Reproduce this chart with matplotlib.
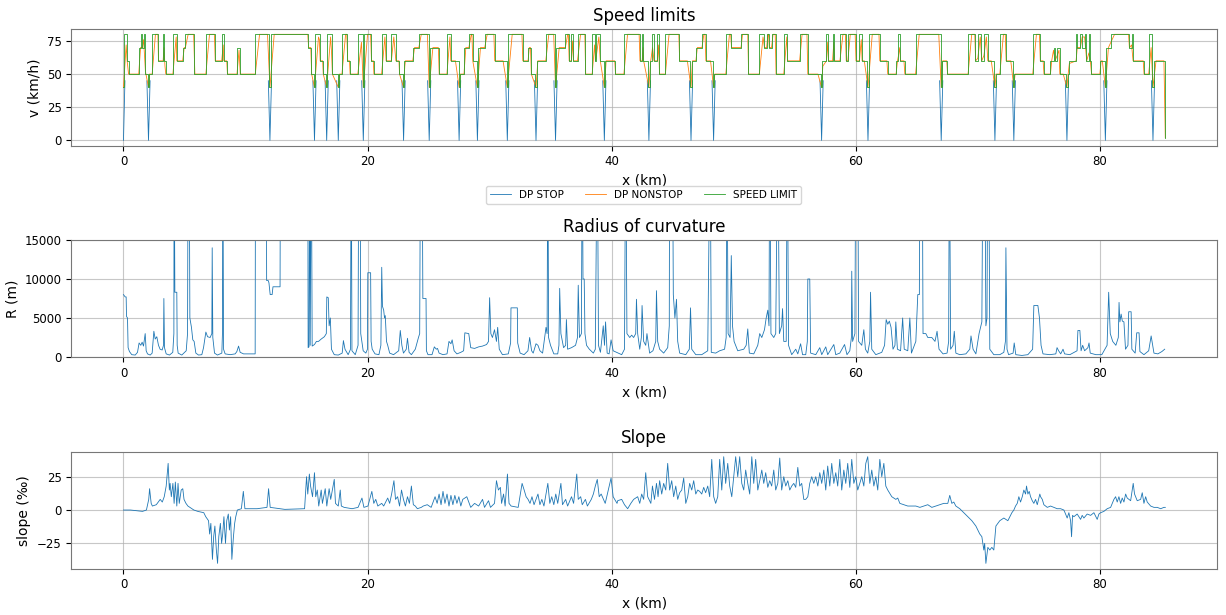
import numpy as np
import matplotlib.pyplot as plt

nan = np.nan

# speed limit, step function: start of each stretch (km) and limit (km/h)
limit_km = [0.0, 0.08, 0.3, 0.45, 1.25, 1.4, 1.55, 1.65, 1.8, 2.0, 2.1, 2.35, 2.85, 3.25, 3.35, 3.45,
            4.05, 4.35, 4.85, 5.05, 5.8, 6.75, 7.5, 8.05, 8.2, 8.5, 9.3, 9.55, 10.8, 11.95, 12.05,
            15.15, 15.4, 15.6, 15.7, 16.1, 16.35, 16.6, 16.7, 17.1, 17.55, 17.65, 17.9, 18.35, 18.55,
            19.2, 19.6, 19.7, 20.3, 20.5, 21.15, 21.5, 21.95, 22.3, 22.6, 22.9, 23.0, 23.7, 24.2,
            25.0, 25.1, 25.85, 26.5, 26.8, 27.45, 27.55, 27.9, 28.3, 28.6, 28.95, 29.05, 29.6, 30.4,
            31.4, 31.5, 32.7, 33.15, 33.4, 33.75, 33.85, 34.6, 35.35, 35.45, 36.2, 36.5, 36.7, 36.85,
            37.2, 37.85, 38.4, 38.65, 38.7, 39.05, 39.35, 39.45, 40.3, 41.0, 42.3, 42.5, 42.6, 43.0,
            43.1, 43.3, 43.45, 43.75, 43.9, 44.4, 45.55, 46.45, 46.55, 46.9, 47.4, 47.7, 48.3, 48.4,
            49.35, 49.8, 50.6, 51.2, 52.1, 52.5, 52.7, 52.9, 53.1, 53.45, 54.1, 54.4, 55.4, 56.05,
            57.15, 57.25, 57.6, 57.75, 58.1, 58.25, 58.7, 59.2, 59.35, 60.0, 60.3, 60.5, 60.95, 61.05,
            61.95, 62.6, 63.3, 63.5, 63.65, 64.0, 64.9, 66.95, 67.05, 67.5, 69.2, 69.8, 70.0, 70.3,
            70.5, 70.8, 71.35, 71.45, 71.8, 72.3, 72.9, 73.0, 74.5, 75.1, 75.4, 75.95, 76.2, 76.3,
            76.5, 76.7, 77.25, 77.35, 77.45, 78.05, 78.15, 78.4, 78.5, 78.75, 78.9, 79.1, 79.2, 79.3,
            80.0, 80.4, 80.5, 80.9, 82.4, 82.6, 82.7, 83.6, 84.0, 84.3, 84.4, 85.36]
limit_kmh = [40, 80, 60, 50, 70, 80, 70, 80, 50, 40, 50, 80, 60, 80, 60, 50,
             80, 60, 70, 80, 50, 80, 60, 80, 60, 50, 70, 50, 80, 40, 80,
             70, 50, 40, 80, 60, 50, 40, 80, 50, 40, 50, 80, 60, 50,
             80, 40, 80, 60, 50, 80, 60, 80, 60, 50, 40, 60, 70, 80,
             40, 70, 50, 80, 60, 40, 50, 70, 80, 60, 40, 70, 80, 60,
             40, 80, 60, 70, 50, 40, 60, 80, 40, 70, 80, 60, 80, 60,
             80, 50, 80, 60, 80, 60, 40, 60, 50, 80, 60, 80, 60, 40,
             60, 80, 60, 80, 50, 80, 60, 40, 60, 70, 80, 60, 40, 50,
             80, 70, 80, 50, 80, 70, 80, 70, 80, 50, 80, 60, 80, 50,
             40, 60, 80, 60, 80, 60, 80, 60, 80, 60, 80, 60, 40, 80,
             60, 50, 60, 80, 60, 50, 80, 40, 60, 50, 80, 60, 80, 60,
             80, 60, 40, 50, 80, 60, 40, 50, 80, 60, 50, 60, 70, 60,
             70, 50, 40, 50, 60, 80, 70, 80, 70, 80, 60, 80, 60, 50,
             60, 40, 70, 80, 70, 80, 60, 50, 80, 40, 60, 2]

# DP nonstop profile (km, km/h)
nonstop_km = [0.0, 0.22, 0.3, 0.42, 1.25, 1.4, 1.55, 1.65, 1.8, 2.05, 2.12, 2.35, 2.62, 2.82, 2.87,
              3.25, 3.32, 3.4, 3.47, 4.05, 4.32, 4.37, 4.85, 4.98, 5.07, 5.3, 5.75, 5.85, 6.75, 7.05,
              7.45, 7.52, 8.05, 8.17, 8.22, 8.46, 8.52, 9.3, 9.47, 9.57, 10.8, 11.15, 11.8, 12.0,
              12.35, 15.1, 15.17, 15.35, 15.42, 15.65, 15.98, 16.05, 16.12, 16.32, 16.37, 16.65,
              16.97, 17.05, 17.12, 17.6, 17.7, 17.9, 18.2, 18.3, 18.37, 18.52, 18.57, 19.2, 19.5,
              19.65, 20.0, 20.25, 20.32, 20.47, 20.52, 21.15, 21.42, 21.52, 21.95, 22.15, 22.32,
              22.57, 22.62, 22.95, 23.05, 23.1, 23.7, 23.85, 24.2, 24.4, 24.9, 25.05, 25.35, 25.8,
              25.87, 26.5, 26.75, 26.82, 27.2, 27.5, 27.6, 27.9, 28.05, 28.3, 28.5, 28.55, 28.62,
              29.0, 29.25, 29.6, 29.8, 30.35, 30.42, 31.1, 31.45, 31.85, 32.65, 32.72, 33.15, 33.25,
              33.35, 33.42, 33.8, 33.95, 34.6, 34.85, 35.25, 35.4, 35.7, 36.2, 36.4, 36.45, 36.52,
              36.7, 36.8, 36.87, 37.2, 37.45, 37.8, 37.87, 38.4, 38.6, 38.67, 38.72, 38.95, 39.07,
              39.4, 39.55, 40.25, 40.32, 41.0, 41.3, 42.25, 42.32, 42.5, 42.57, 42.62, 43.05, 43.2,
              43.35, 43.47, 43.75, 43.85, 43.92, 44.4, 44.7, 45.5, 45.57, 46.2, 46.5, 46.62, 46.9,
              47.02, 47.4, 47.55, 47.65, 47.72, 48.1, 48.35, 48.45, 49.35, 49.65, 49.75, 49.82,
              50.6, 50.72, 51.15, 51.22, 52.1, 52.4, 52.52, 52.7, 52.8, 52.85, 52.92, 53.1, 53.22,
              53.4, 53.47, 54.1, 54.35, 54.42, 55.4, 55.6, 56.0, 56.07, 56.9, 57.2, 57.3, 57.6,
              57.7, 57.77, 58.1, 58.2, 58.27, 58.7, 58.95, 59.15, 59.22, 59.35, 59.55, 59.95, 60.02,
              60.3, 60.45, 60.52, 60.7, 61.0, 61.35, 61.9, 61.97, 62.55, 62.62, 63.3, 63.42, 63.5,
              63.6, 63.67, 63.95, 64.02, 64.9, 65.2, 66.8, 67.0, 67.12, 67.45, 67.52, 69.2, 69.5,
              69.75, 69.82, 70.0, 70.2, 70.32, 70.5, 70.7, 70.82, 71.1, 71.4, 71.5, 71.8, 72.1,
              72.25, 72.32, 72.7, 72.95, 73.05, 74.5, 74.8, 75.05, 75.12, 75.35, 75.42, 75.95,
              76.05, 76.2, 76.32, 76.5, 76.65, 76.72, 77.0, 77.3, 77.4, 77.5, 78.05, 78.15, 78.4,
              78.55, 78.75, 78.92, 79.1, 79.22, 79.32, 80.0, 80.1, 80.2, 80.45, 80.7, 80.9, 81.2,
              82.35, 82.42, 82.6, 82.72, 83.55, 83.62, 84.0, 84.2, 84.35, 84.6, 85.25, 85.36]
nonstop_kmh = [40, 72, 60, 50, 50, 70, 70, 76, 52, 40, 50, 50, 80, 80, 60,
               60, 70, 56, 50, 50, 78, 60, 60, 70, 70, 80, 80, 50, 50, 80,
               80, 60, 60, 72, 60, 60, 50, 50, 68, 50, 50, 80, 80, 40,
               80, 80, 70, 70, 50, 40, 78, 76, 60, 60, 50, 40,
               78, 66, 50, 40, 50, 50, 80, 80, 60, 60, 50, 50, 74,
               40, 80, 80, 60, 60, 50, 50, 78, 60, 60, 78, 60,
               60, 50, 40, 56, 60, 60, 70, 70, 80, 80, 40, 70, 70,
               50, 50, 78, 60, 60, 40, 50, 50, 70, 70, 80, 80, 60,
               40, 70, 70, 80, 80, 60, 60, 40, 80, 80, 60, 60, 70,
               70, 50, 40, 60, 60, 80, 80, 40, 70, 70, 80, 80, 60,
               60, 75, 60, 60, 80, 80, 50, 50, 72, 60, 62, 78, 60,
               40, 60, 60, 50, 50, 80, 80, 60, 60, 70, 60, 40, 60,
               70, 60, 60, 72, 50, 50, 80, 80, 60, 60, 40, 60, 60,
               70, 70, 80, 80, 60, 60, 40, 50, 50, 80, 80, 70,
               70, 80, 80, 50, 50, 78, 70, 70, 80, 80, 70, 70, 80,
               80, 50, 50, 78, 60, 60, 80, 80, 50, 50, 40, 56, 60,
               74, 60, 60, 74, 60, 60, 80, 80, 60, 60, 80, 80, 60,
               60, 76, 60, 60, 40, 80, 80, 60, 60, 50, 50, 60, 64,
               70, 60, 60, 50, 50, 80, 80, 40, 60, 60, 50, 50, 80,
               80, 60, 62, 78, 60, 64, 78, 60, 60, 40, 50, 50, 80,
               80, 60, 60, 40, 50, 50, 80, 80, 60, 60, 50, 50,
               60, 68, 60, 64, 68, 50, 50, 40, 50, 58, 60, 70, 70,
               78, 78, 60, 66, 60, 50, 50, 60, 60, 40, 70, 74, 80,
               80, 70, 72, 60, 60, 50, 50, 70, 40, 60, 60, 2]

# DP stop profile around the stations (gaps where it follows the nonstop run)
stop_km = [0.0, 0.12, nan,
           1.92, 2.05, 2.18, nan, 11.87, 12.0, 12.13, nan, 15.52, 15.65, 15.78, nan,
           16.52, 16.65, 16.78, nan, 17.47, 17.6, 17.73, nan, 19.52, 19.65, 19.78, nan,
           22.82, 22.95, 23.08, nan, 24.92, 25.05, 25.18, nan, 27.37, 27.5, 27.63, nan,
           28.87, 29.0, 29.13, nan, 31.32, 31.45, 31.58, nan, 33.67, 33.8, 33.93, nan,
           35.27, 35.4, 35.53, nan, 39.27, 39.4, 39.53, nan, 42.92, 43.05, 43.18, nan,
           46.37, 46.5, 46.63, nan, 48.22, 48.35, 48.48, nan, 57.07, 57.2, 57.33, nan,
           60.87, 61.0, 61.13, nan, 66.87, 67.0, 67.13, nan, 71.27, 71.4, 71.53, nan,
           72.82, 72.95, 73.08, nan, 77.17, 77.3, 77.43, nan, 80.32, 80.45, 80.58, nan,
           84.22, 84.35, 84.48]
stop_kmh = [0, 45, nan] + [45, 0, 45, nan] * 24 + [45, 0, 45]

# radius of curvature (km, m); very large radii leave the plotted range
radius_km = [0.0, 0.14, 0.22, 0.25, 0.33, 0.38, 0.49, 0.68, 0.96, 1.15, 1.28, 1.42, 1.53, 1.64, 1.78,
             1.86, 1.97, 2.19, 2.35, 2.49, 2.6, 2.73, 2.87, 3.0, 3.17, 3.28, 3.31, 3.36, 3.5, 3.77,
             4.04, 4.13, 4.15, 4.21, 4.37, 4.4, 4.48, 4.78, 5.14, 5.25, 5.3, 5.38, 5.44, 5.57, 5.68,
             5.79, 5.93, 6.15, 6.42, 6.56, 6.75, 6.89, 7.1, 7.24, 7.27, 7.32, 7.46, 7.7, 8.06, 8.11,
             8.14, 8.2, 8.33, 8.74, 9.15, 9.29, 9.43, 9.56, 9.84, 10.11, 10.52, 10.79, 10.82, 11.7,
             11.73, 11.86, 11.92, 12.02, 12.18, 12.25, 12.83, 12.86, 15.1, 15.13, 15.2, 15.26, 15.3,
             15.39, 15.46, 15.65, 15.81, 15.98, 16.2, 16.46, 16.62, 16.66, 16.78, 16.85, 16.95,
             17.04, 17.27, 17.6, 17.92, 18.02, 18.15, 18.41, 18.6, 18.66, 18.72, 18.99, 19.22,
             19.28, 19.38, 19.44, 19.64, 19.86, 19.99, 20.02, 20.25, 20.29, 20.38, 20.61, 20.93,
             21.09, 21.16, 21.22, 21.32, 21.39, 21.45, 21.55, 21.65, 21.81, 22.13, 22.55, 22.68,
             22.81, 22.94, 23.17, 23.27, 23.4, 23.59, 23.91, 24.17, 24.27, 24.34, 24.46, 24.53,
             24.79, 24.82, 24.95, 25.28, 25.47, 25.63, 25.73, 25.86, 26.18, 26.51, 26.67, 26.83,
             26.93, 27.09, 27.32, 27.64, 27.87, 27.97, 28.29, 28.45, 28.77, 29.1, 29.42, 29.75,
             29.91, 30.0, 30.1, 30.23, 30.4, 30.56, 30.66, 30.79, 31.05, 31.53, 31.72, 31.75,
             32.27, 32.3, 32.5, 32.82, 33.14, 33.28, 33.44, 33.57, 33.8, 33.96, 34.12, 34.34,
             34.62, 34.71, 34.77, 34.83, 34.99, 35.26, 35.58, 35.68, 35.74, 35.84, 36.06, 36.23,
             36.29, 36.39, 36.71, 37.04, 37.2, 37.26, 37.36, 37.52, 37.59, 37.65, 37.75, 37.81,
             37.94, 38.17, 38.5, 38.66, 38.82, 38.92, 39.08, 39.31, 39.41, 39.5, 39.63, 39.79,
             39.95, 40.12, 40.82, 41.05, 41.15, 41.25, 41.48, 41.64, 41.8, 41.97, 42.03, 42.13,
             42.3, 42.43, 42.49, 42.62, 42.79, 42.89, 43.11, 43.38, 43.61, 43.67, 43.77, 43.93,
             44.26, 44.59, 44.72, 44.75, 44.98, 45.05, 45.18, 45.31, 45.41, 45.57, 46.07, 46.36,
             46.46, 46.56, 46.89, 47.38, 47.87, 48.07, 48.16, 48.52, 48.85, 49.25, 49.38, 49.44,
             49.54, 49.7, 49.8, 49.9, 50.03, 50.33, 50.82, 51.02, 51.15, 51.28, 51.64, 51.97,
             52.13, 52.3, 52.52, 52.66, 52.79, 52.89, 52.95, 53.05, 53.28, 53.44, 53.61, 53.74,
             53.93, 54.0, 54.1, 54.3, 54.39, 54.49, 54.75, 55.08, 55.25, 55.48, 55.64, 55.9,
             56.03, 56.07, 56.23, 56.3, 56.72, 57.05, 57.21, 57.54, 57.7, 58.2, 58.36, 58.69,
             59.08, 59.28, 59.51, 59.64, 59.67, 59.74, 59.93, 60.0, 60.16, 60.23, 60.49, 60.66,
             60.79, 60.98, 61.15, 61.21, 61.31, 61.64, 62.13, 62.36, 62.49, 62.62, 62.75, 62.89,
             63.05, 63.21, 63.28, 63.41, 63.67, 63.84, 63.97, 64.26, 64.43, 64.56, 64.92, 65.08,
             65.21, 65.25, 65.44, 65.51, 65.74, 65.9, 66.23, 66.49, 66.66, 66.82, 67.15, 67.48,
             67.61, 67.67, 67.77, 67.97, 68.07, 68.2, 68.52, 69.02, 69.34, 69.44, 69.61, 69.84,
             70.1, 70.33, 70.43, 70.56, 70.66, 70.75, 70.82, 70.89, 70.98, 71.31, 71.8, 72.13,
             72.26, 72.3, 72.39, 72.52, 72.89, 72.98, 73.11, 73.61, 74.1, 74.49, 74.59, 74.92,
             75.05, 75.18, 75.34, 75.9, 76.39, 76.49, 76.62, 76.79, 76.98, 77.11, 77.54, 78.13,
             78.2, 78.36, 78.46, 78.59, 78.75, 79.02, 79.11, 79.21, 79.67, 80.16, 80.59, 80.72,
             80.85, 81.05, 81.31, 81.51, 81.57, 81.64, 81.74, 81.84, 81.97, 82.1, 82.3, 82.36,
             82.56, 82.62, 82.89, 83.02, 83.21, 83.28, 83.61, 84.0, 84.2, 84.43, 84.75, 85.08,
             85.31]
radius_m = [8000, 7700, 7700, 5200, 5000, 1200, 700, 300, 250, 600, 1800, 1500, 1900, 1400, 3000,
            800, 400, 250, 500, 3300, 2300, 2600, 1500, 1000, 900, 1500, 7500, 1200, 400, 250,
            600, 3000, 30000, 8300, 8300, 1500, 500, 250, 800, 3000, 30000, 30000, 5000, 3800, 2200,
            2000, 500, 250, 300, 1200, 3200, 2600, 2500, 3000, 14000, 2500, 500, 250, 500, 3000,
            30000, 1000, 400, 300, 400, 700, 1400, 600, 400, 400, 400, 400, 30000, 30000,
            9800, 9800, 9500, 8000, 8000, 9000, 9000, 30000, 30000, 1200, 1300, 30000, 1500,
            30000, 1400, 1600, 2000, 2000, 2300, 2600, 3000, 7700, 7600, 4000, 5000,
            1000, 300, 250, 500, 2100, 1000, 300, 1000, 30000, 800, 300, 1500,
            30000, 30000, 3000, 800, 500, 1000, 10800, 10800, 2000, 1000, 400, 300,
            1500, 11500, 6500, 6000, 5000, 5300, 2000, 1500, 500, 300, 800, 3400,
            1500, 500, 1000, 2400, 600, 300, 1000, 2500, 3000, 30000, 30000, 7500,
            7500, 800, 300, 300, 1300, 1000, 1100, 500, 300, 400, 2000, 1700,
            2200, 800, 400, 600, 800, 3100, 3000, 1200, 1100, 1300, 1400, 1600,
            2000, 7600, 3000, 2500, 3500, 2000, 3800, 1000, 300, 400, 1800, 6300,
            6300, 1800, 500, 300, 800, 2500, 800, 500, 1700, 1500, 800, 500,
            3800, 3000, 30000, 2500, 1500, 400, 400, 1500, 8800, 3000, 1200, 1500,
            4800, 1000, 1200, 1500, 2500, 9200, 2500, 3000, 30000, 10000, 10000, 3000,
            1500, 1000, 500, 1000, 30000, 1500, 600, 4000, 1500, 4500, 500, 400,
            2200, 800, 300, 1000, 30000, 3000, 2500, 2800, 2500, 3000, 7400, 3000,
            1000, 2500, 6600, 2000, 1500, 3000, 500, 800, 2000, 8500, 2000, 1000,
            500, 1200, 4000, 30000, 30000, 8000, 5000, 7400, 2000, 500, 300, 1000,
            6300, 1000, 300, 300, 800, 30000, 600, 500, 800, 1000, 2500, 30000,
            3000, 2500, 13000, 4000, 2000, 800, 1000, 1500, 3600, 500, 400, 1500,
            3000, 2500, 3500, 5000, 6000, 4000, 30000, 3000, 2500, 3000, 30000, 3000,
            4000, 6200, 2000, 2000, 30000, 1500, 300, 1000, 400, 1700, 300, 300,
            2000, 10000, 10000, 500, 300, 1200, 300, 1300, 300, 1600, 300, 500,
            1600, 300, 800, 2500, 11000, 2000, 3000, 30000, 30000, 2000, 1500, 3500,
            1000, 500, 2000, 8300, 1000, 300, 600, 1500, 4800, 4200, 4600, 3800,
            1000, 1500, 4500, 1000, 800, 5000, 1000, 800, 5000, 500, 2000, 8000,
            8000, 30000, 30000, 3000, 3000, 2500, 2500, 2000, 3300, 1000, 400, 500,
            2000, 30000, 1000, 1500, 3300, 500, 300, 400, 1000, 2700, 1000, 400,
            3000, 4500, 30000, 30000, 4000, 5000, 30000, 30000, 1000, 300, 300, 600,
            2000, 14000, 1000, 300, 500, 1800, 300, 200, 300, 1000, 6600, 6600,
            5000, 1500, 400, 300, 400, 1200, 800, 400, 1000, 400, 300, 800,
            3400, 3400, 800, 1500, 800, 1200, 1800, 500, 300, 300, 1500, 8300,
            3000, 2000, 1500, 2500, 7000, 4500, 5500, 4600, 4500, 1000, 1500, 5800,
            5800, 1000, 500, 3100, 3100, 700, 300, 800, 2700, 500, 400, 700,
            1000]

# track slope (km, per mille)
slope_km = [0.0, 0.58, 1.07, 1.56, 1.88, 2.07, 2.14, 2.27, 2.37, 2.69, 3.01, 3.18, 3.34, 3.5, 3.66,
            3.76, 3.82, 3.92, 4.05, 4.15, 4.25, 4.37, 4.47, 4.57, 4.73, 4.86, 4.96, 5.12, 5.28,
            5.44, 5.77, 6.09, 6.58, 6.74, 6.97, 7.06, 7.16, 7.29, 7.39, 7.49, 7.61, 7.71, 7.81,
            7.94, 8.04, 8.13, 8.23, 8.36, 8.46, 8.59, 8.68, 8.78, 8.88, 9.01, 9.11, 9.2, 9.33,
            9.66, 9.82, 9.95, 10.95, 11.76, 11.89, 12.02, 13.22, 14.84, 15.0, 15.1, 15.23, 15.33,
            15.49, 15.65, 15.75, 15.88, 16.0, 16.2, 16.3, 16.53, 16.66, 16.85, 16.98, 17.27,
            17.37, 17.6, 17.76, 17.85, 18.08, 18.73, 19.22, 19.54, 19.7, 20.03, 20.35, 20.51,
            20.67, 20.84, 21.16, 21.32, 21.65, 21.81, 21.97, 22.16, 22.29, 22.46, 22.62, 22.78,
            22.94, 23.1, 23.27, 23.43, 23.59, 23.75, 23.91, 24.08, 24.4, 24.56, 24.89, 25.21,
            25.53, 25.7, 25.86, 26.02, 26.18, 26.34, 26.51, 26.67, 26.83, 26.99, 27.15, 27.32,
            27.48, 27.64, 27.8, 28.13, 28.45, 28.77, 29.1, 29.42, 29.58, 29.91, 30.07, 30.4,
            30.56, 30.72, 30.88, 30.98, 31.14, 31.27, 31.46, 31.59, 31.76, 32.34, 32.66, 32.83,
            32.99, 33.15, 33.31, 33.47, 33.64, 33.96, 34.12, 34.28, 34.45, 34.77, 34.93, 35.09,
            35.26, 35.42, 35.58, 35.84, 35.97, 36.23, 36.39, 36.71, 36.88, 37.14, 37.26, 37.46,
            37.59, 37.85, 38.01, 38.33, 38.5, 38.66, 38.82, 38.98, 39.14, 39.47, 39.95, 40.12,
            40.44, 40.49, 40.82, 41.05, 41.31, 41.57, 41.8, 42.13, 42.3, 42.46, 42.62, 42.79,
            42.95, 43.21, 43.34, 43.51, 43.67, 43.8, 43.93, 44.1, 44.26, 44.43, 44.59, 44.75,
            44.92, 45.08, 45.25, 45.41, 45.57, 45.74, 45.9, 46.07, 46.23, 46.39, 46.56, 46.72,
            46.89, 47.05, 47.21, 47.38, 47.54, 47.7, 47.87, 48.03, 48.2, 48.36, 48.52, 48.69,
            48.85, 49.02, 49.18, 49.34, 49.51, 49.67, 49.84, 50.16, 50.33, 50.49, 50.66, 50.82,
            50.98, 51.15, 51.31, 51.48, 51.64, 51.8, 51.97, 52.13, 52.3, 52.46, 52.62, 52.79,
            52.95, 53.11, 53.28, 53.44, 53.61, 53.77, 53.93, 54.1, 54.26, 54.43, 54.59, 54.75,
            54.92, 55.08, 55.25, 55.41, 55.57, 55.74, 55.9, 56.07, 56.23, 56.39, 56.56, 56.72,
            56.89, 57.05, 57.21, 57.38, 57.54, 57.7, 57.87, 58.03, 58.2, 58.36, 58.52, 58.69,
            58.85, 59.02, 59.18, 59.34, 59.51, 59.67, 59.84, 60.0, 60.16, 60.33, 60.49, 60.66,
            60.82, 60.98, 61.15, 61.31, 61.48, 61.64, 61.8, 61.97, 62.13, 62.3, 62.46, 62.62,
            62.95, 63.28, 63.44, 63.61, 63.93, 64.26, 64.59, 64.92, 65.25, 65.57, 65.9, 66.23,
            66.56, 66.89, 67.21, 67.54, 67.7, 67.87, 68.03, 68.2, 68.52, 68.85, 69.18, 69.51,
            69.84, 70.16, 70.33, 70.49, 70.56, 70.66, 70.82, 70.98, 71.15, 71.31, 71.48, 71.8,
            72.13, 72.46, 72.79, 72.95, 73.09, 73.23, 73.36, 73.5, 73.64, 73.77, 73.91, 73.99,
            74.1, 74.21, 74.32, 74.46, 74.59, 74.73, 74.87, 75.08, 75.14, 75.28, 75.41, 75.69,
            75.96, 76.23, 76.5, 76.78, 77.05, 77.19, 77.32, 77.46, 77.6, 77.68, 77.76, 77.87,
            78.14, 78.42, 78.55, 78.69, 78.96, 79.24, 79.51, 79.78, 79.92, 80.06, 80.33, 80.6,
            80.88, 81.15, 81.29, 81.42, 81.56, 81.7, 81.83, 81.97, 82.11, 82.24, 82.52, 82.73,
            82.84, 82.93, 83.06, 83.34, 83.47, 83.61, 83.75, 83.88, 84.16, 84.43, 84.7, 84.98,
            85.25, 85.36]
slope_pm = [0, 0, -0.5, -1, 0, 8, 16, 5, 3, 4, 8, 6, 10, 18, 35,
            15, 20, 10, 20, 5, 21, 3, 20, 5, 15, 16, 8, 5, 3,
            2, 0, -1, -2, -5, -8, -18, -10, -37, -20, -12, -30, -40, -20,
            -10, -25, -18, -5, -25, -8, -3, -15, -5, -37, -20, -10, -5, 0,
            1, 14, 1, 1, 2, 16, 2, 0.5, 1, 25, 12, 27, 18,
            10, 28, 10, 15, 3, 15, 5, 16, 3, 16, 8, 23,
            5, 3, 15, 3, 2, 1, 2, 9, 2, 3, 14, 5,
            8, 3, 5, 3, 9, 5, 12, 22, 8, 10, 3, 15,
            8, 3, 10, 5, 18, 4, 3, 1, 2, 3, 4, 2,
            10, 5, 12, 4, 14, 5, 12, 3, 11, 4, 11, 5,
            10, 3, 8, 10, 2, 5, 3, 8, 2, 7, 2, 5,
            22, 15, 17, 5, 12, 3, 27, 5, 3, 2, 20, 15,
            10, 8, 5, 10, 4, 12, 4, 8, 3, 20, 5, 10,
            4, 12, 5, 20, 4, 8, 3, 10, 5, 27, 8, 10,
            4, 8, 3, 8, 12, 18, 23, 10, 12, 5, 24, 10,
            5, 7, 8, 4, 1, 5, 8, 10, 5, 12, 8, 28,
            10, 5, 18, 8, 20, 10, 22, 12, 20, 15, 35, 15,
            22, 10, 18, 8, 13, 15, 24, 5, 10, 20, 15, 22,
            12, 15, 14, 12, 17, 13, 18, 10, 38, 10, 5, 10,
            38, 15, 40, 20, 35, 18, 10, 40, 25, 40, 20, 15,
            30, 20, 12, 40, 20, 38, 15, 22, 30, 20, 28, 17,
            22, 18, 30, 15, 20, 39, 15, 25, 18, 22, 15, 18,
            20, 17, 32, 18, 20, 8, 8, 10, 20, 25, 20, 25,
            18, 28, 20, 30, 15, 33, 18, 35, 20, 28, 18, 38,
            15, 30, 20, 35, 17, 38, 20, 25, 15, 20, 25, 18,
            35, 40, 20, 30, 18, 25, 15, 38, 25, 35, 18, 15,
            10, 8, 9, 5, 4, 3, 3, 3, 2, 3, 4, 2,
            3, 4, 5, 5, 11, 5, 6, 3, 1, -2, -5, -8,
            -12, -18, -20, -30, -25, -40, -28, -30, -28, -30, -12, -8,
            -6, -8, -2, 0, 3, 5, 10, 6, 10, 15, 12, 18,
            12, 14, 10, 7, 5, 8, 4, 12, 10, 8, 4, 2,
            3, 2, 1, 1, 0, -3, -6, -2, -8, -20, -4, -5,
            -3, -7, -4, -6, -3, -4, -2, -7, -3, -2, -1, 1,
            2, 8, 10, 6, 10, 5, 9, 6, 12, 9, 7, 20,
            12, 10, 7, 8, 13, 5, 10, 6, 3, 2, 2, 1,
            2, 2]

blue = '#1f77b4'
orange = '#ff7f0e'
green = '#2ca02c'

fig = plt.figure(figsize=(12.26, 6.15), dpi=100)
ax1 = fig.add_axes([0.0582, 0.7631, 0.9345, 0.1897])
ax2 = fig.add_axes([0.0582, 0.4195, 0.9345, 0.1903])
ax3 = fig.add_axes([0.0582, 0.0753, 0.9345, 0.1902])

l1, = ax1.plot(stop_km, stop_kmh, color=blue, lw=0.6, label='DP STOP')
l2, = ax1.plot(nonstop_km, nonstop_kmh, color=orange, lw=0.6, label='DP NONSTOP')
l3, = ax1.step(limit_km, limit_kmh, where='post', color=green, lw=0.6, label='SPEED LIMIT')
ax1.set_ylim(-4, 84)
ax1.set_yticks([0, 25, 50, 75])
ax1.set_ylabel('v (km/h)', fontsize=10)
ax1.set_title('Speed limits', fontsize=12)

ax2.plot(radius_km, radius_m, color=blue, lw=0.6)
ax2.set_ylim(0, 15000)
ax2.set_yticks([0, 5000, 10000, 15000])
ax2.set_ylabel('R (m)', fontsize=10)
ax2.set_title('Radius of curvature', fontsize=12)

ax3.plot(slope_km, slope_pm, color=blue, lw=0.6)
ax3.set_ylim(-44, 43.75)
ax3.set_yticks([-25, 0, 25])
ax3.set_ylabel('slope (‰)', fontsize=10)
ax3.set_title('Slope', fontsize=12)

for ax in (ax1, ax2, ax3):
    ax.set_xlim(-4.27, 89.6)
    ax.set_xticks([0, 20, 40, 60, 80])
    ax.set_xlabel('x (km)', fontsize=10)
    ax.tick_params(labelsize=8.5)
    ax.grid(True, color='#b0b0b0', lw=0.8, alpha=0.7)
    for sp in ax.spines.values():
        sp.set_color('#777777')

fig.legend(handles=[l1, l2, l3], loc='center', bbox_to_anchor=(0.525, 0.683),
           ncol=3, fontsize=7.5)

fig.savefig('out.png', dpi=100)
